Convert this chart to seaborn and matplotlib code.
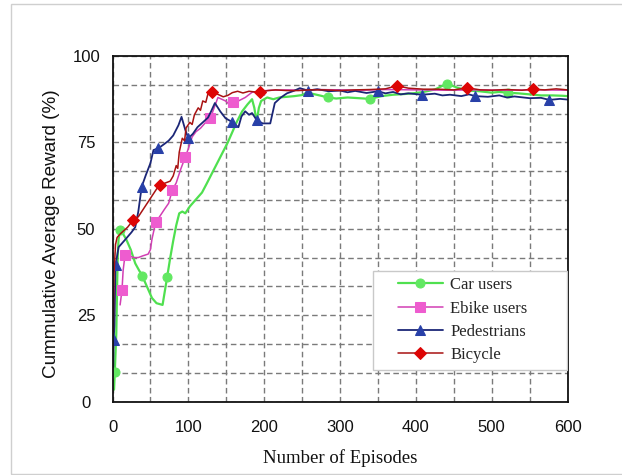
import numpy as np
import pandas as pd
import matplotlib
matplotlib.use("Agg")
import matplotlib.pyplot as plt
from matplotlib.patches import Rectangle
import seaborn as sns

# ---- data -------------------------------------------------------------
car_ep = [2, 3, 5, 6, 7, 8, 10, 14, 18, 24, 30, 35, 39, 46, 52, 58, 66, 69, 72, 76,
          80, 84, 88, 92, 96, 102, 110, 118, 124, 131, 138, 145, 152, 158, 164, 171,
          178, 184, 187, 190, 193, 196, 204, 212, 220, 230, 240, 250, 257, 265, 275,
          284, 295, 310, 325, 339, 355, 370, 385, 396, 410, 425, 441, 455, 470, 484,
          500, 510, 521, 535, 550, 565, 580, 593, 600]
car_val = [3.5, 8.5, 20, 33, 43, 47, 49.6, 48.5, 47, 44, 40, 38, 36.5, 33, 30, 28.5,
           28, 32, 36, 41.5, 46.5, 51, 54.5, 55, 54.5, 56.5, 58.5, 60.5, 63, 66, 69,
           72, 75, 78, 81, 84, 86, 87.5, 85, 81, 85, 87, 88, 87.5, 88, 88.2, 88.4,
           88.7, 89.5, 89, 88.5, 88, 87.7, 88, 87.8, 87.6, 88.4, 88.8, 89, 89.2, 89.6,
           90.3, 92, 90.8, 90, 89.8, 89.4, 89.6, 89.4, 89.2, 88.9, 88.6, 88.6, 88.5, 88.4]
car_marks = [3, 10, 39, 72, 284, 339, 441, 521]

ebike_ep = [10, 12.5, 14, 16.5, 22, 28, 34, 40, 47, 50, 52, 57, 62, 68, 74, 79, 84,
            90, 96, 100, 105, 110, 116, 122, 129, 134, 139, 144, 149, 154, 159, 166,
            175, 184, 195, 210, 230, 250, 270, 300, 330, 360, 400, 440, 480, 520, 560, 600]
ebike_val = [28, 32.3, 38, 42.4, 42.2, 41.7, 41.7, 42.2, 42.7, 44, 47, 52, 53.5, 55.5,
             57.4, 61.3, 63.3, 67.3, 70.8, 73.2, 76.6, 78.1, 79.1, 80.6, 82, 85, 88,
             87.5, 87, 86, 86.7, 87, 88, 89.5, 89.9, 90.1, 90.2, 90.1, 90.3, 90.2, 90.1,
             90.3, 90.2, 90.1, 90.2, 90.1, 90.2, 90.1]
ebike_marks = [12.5, 16.5, 57, 79, 96, 129, 159]

ped_ep = [1, 1.5, 2.5, 3, 3.5, 4, 8, 16, 25, 30, 34, 38.5, 44, 50, 54, 60.5, 68, 74,
          80, 87, 91, 96, 100, 106, 112, 118, 122, 126, 130, 135, 142, 149, 157, 166,
          170, 175, 180, 184, 190, 198, 208, 214, 222, 230, 240, 247, 258, 270, 285,
          300, 310, 320, 335, 350, 360, 370, 380, 390, 408, 425, 435, 445, 460, 470,
          478, 495, 510, 520, 530, 550, 565, 576, 590, 600]
ped_val = [10, 17.8, 22, 28, 34, 39.5, 44.7, 46.7, 49, 50.5, 55, 62.2, 65.6, 69, 72.8,
           73.3, 74.5, 75.5, 77, 80, 82.4, 78.6, 76.2, 77.5, 79.4, 80.6, 81.4, 82.2, 84,
           86.4, 84, 82, 81, 79.4, 82.5, 84, 83, 83.5, 81.5, 80.5, 80.5, 86.4, 88, 89.2,
           90, 90.7, 90, 90.4, 89.8, 90, 89.5, 89.9, 89.3, 89.8, 89.2, 89.6, 88.9, 89.2,
           88.8, 89.1, 88.6, 88.8, 88.4, 88.9, 88.4, 88.2, 88.6, 88, 88.3, 87.8, 87.9,
           87.3, 87.6, 87.4]
ped_marks = [1.5, 4, 38.5, 60.5, 100, 157, 190, 258, 350, 408, 478, 576]

bike_ep = [1, 1.5, 2, 3, 4, 6, 10, 15, 20, 27, 34, 40, 46, 52, 58, 63, 70, 76, 80, 84,
           86, 88, 92, 95, 97, 102, 105, 108, 113, 116, 119, 123, 126, 131, 140, 146,
           152, 158, 165, 172, 180, 188, 195, 205, 215, 230, 245, 260, 280, 300, 320,
           340, 360, 375, 390, 410, 430, 450, 468, 485, 500, 520, 540, 554, 570, 585, 600]
bike_val = [20, 30, 37, 41.5, 45.5, 47.5, 48.5, 49.5, 50.5, 52.5, 53.5, 55.5, 57.5,
            59.5, 61.5, 62.7, 63.3, 63.8, 65.3, 68.3, 67.5, 72.2, 76.2, 75.5, 79.2, 80.8,
            80.2, 83, 85, 84.3, 87, 86.6, 89.2, 89.7, 88.8, 88.2, 88.6, 89.4, 89.8, 89.3,
            89.8, 89.6, 89.6, 90, 90.2, 90, 90, 90.2, 90.2, 90, 90.2, 90.3, 90.5, 91.4,
            90.7, 90.4, 90.4, 90.2, 90.8, 90.2, 90.1, 90.3, 90.1, 90.4, 90.2, 90.5, 90.2]
bike_marks = [27, 63, 131, 195, 375, 468, 554]

x_ticks = [0, 100, 200, 300, 400, 500, 600]
y_ticks = [0, 25, 50, 75, 100]

series = [
    ("Car users", car_ep, car_val, car_marks, "#4fe04f", "#62e862", "o", 6.5, 1.6),
    ("Ebike users", ebike_ep, ebike_val, ebike_marks, "#d23fb4", "#ee5ccf", "s", 6.5, 1.1),
    ("Pedestrians", ped_ep, ped_val, ped_marks, "#1b2677", "#2840a8", "^", 7.0, 1.3),
    ("Bicycle", bike_ep, bike_val, bike_marks, "#a81212", "#dd0505", "D", 6.5, 1.1),
]

# ---- figure ----------------------------------------------------------
sns.set_style("white")
plt.rcParams["font.family"] = ["Liberation Sans", "DejaVu Sans"]

fig = plt.figure(figsize=(6.22, 4.75), dpi=100)
ax = fig.add_axes([0.1809, 0.1543, 0.7315, 0.7278])

for name, xs, ys, marks, lc, mc, mk, ms, lw in series:
    df = pd.DataFrame({"Episode": xs, "Reward": ys})
    idx = [xs.index(m) for m in marks]
    sns.lineplot(data=df, x="Episode", y="Reward", ax=ax, color=lc, lw=lw,
                 marker=mk, markersize=ms, markerfacecolor=mc, markeredgecolor=mc,
                 markevery=idx, label=name, sort=False, estimator=None)

ax.set_xlim(0, 600)
ax.set_ylim(0, 100)
ax.set_xticks(x_ticks)
ax.set_yticks(y_ticks)
ax.set_xticks(np.arange(0, 601, 50), minor=True)
ax.set_yticks(np.linspace(0, 100, 13), minor=True)
ax.grid(which="both", color="#7a7a7a", linestyle=(0, (4, 2.5)), linewidth=1.0)
ax.set_axisbelow(True)

ax.tick_params(which="major", direction="in", length=4, width=1.2, color="black",
               labelsize=12, labelcolor="#111111")
ax.tick_params(which="minor", length=0)
ax.tick_params(axis="x", which="major", pad=13)
ax.tick_params(axis="y", which="major", pad=19)
for lab in ax.get_yticklabels():
    lab.set_horizontalalignment("center")

for side in ["left", "right", "top", "bottom"]:
    ax.spines[side].set_visible(True)
    ax.spines[side].set_color("#111111")
    ax.spines[side].set_linewidth(1.3)

ax.set_xlabel("Number of Episodes", family=["Liberation Serif", "DejaVu Serif"],
              fontsize=13.5, color="#111111")
ax.set_ylabel("Cummulative Average Reward (%)", fontsize=13.6, color="#111111")
ax.xaxis.set_label_coords(0.5, -0.137)
ax.yaxis.set_label_coords(-0.115, 0.485)

# legend box and entries
ax.add_patch(Rectangle((0.5725, 0.092), 0.4265, 0.286, transform=ax.transAxes,
                       facecolor="white", edgecolor="#c9c9c9", lw=1.0, zorder=4.5))
leg = ax.legend(loc="upper left", bbox_to_anchor=(0.627, 0.360), frameon=False,
                borderpad=0, borderaxespad=0, handlelength=2.7, handletextpad=0.45,
                labelspacing=0.44, prop={"family": ["Liberation Serif", "DejaVu Serif"],
                                         "size": 12})
leg.set_zorder(5)

# light page border
fig.patches.append(Rectangle((11 / 622, 1 - 474 / 475), 700 / 622, 470 / 475,
                             transform=fig.transFigure, fill=False,
                             edgecolor="#cfcfcf", lw=1.0))

fig.savefig("out.png", dpi=100)
